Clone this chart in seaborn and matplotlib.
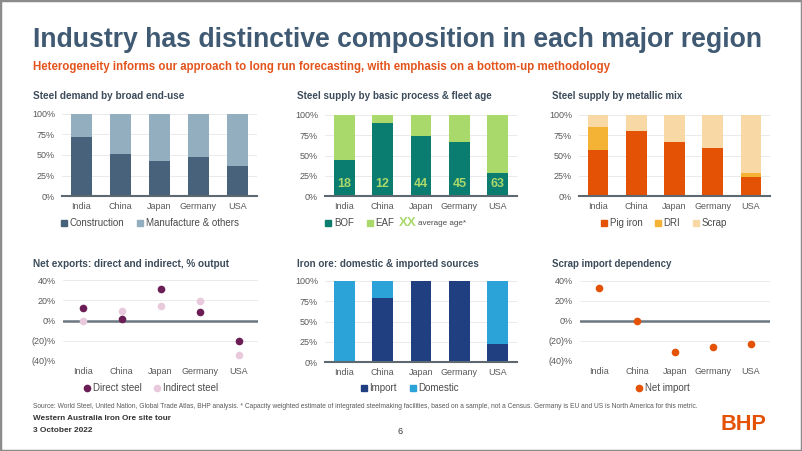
import numpy as np
import matplotlib
matplotlib.use("Agg")
import matplotlib.pyplot as plt
from matplotlib.lines import Line2D
from matplotlib.patches import Rectangle
from matplotlib import font_manager
import seaborn as sns

# --- data ---
regions = ["India", "China", "Japan", "Germany", "USA"]

# steel demand by broad end-use
construction = [0.72, 0.51, 0.43, 0.47, 0.37]
manufacture = [0.28, 0.49, 0.57, 0.53, 0.63]

# steel supply by basic process + fleet age (years)
bof = [0.44, 0.90, 0.74, 0.67, 0.29]
eaf = [0.56, 0.10, 0.26, 0.33, 0.71]
fleet_age = [18, 12, 44, 45, 63]

# metallic mix
pig_iron = [0.57, 0.80, 0.67, 0.59, 0.24]
dri = [0.28, 0.00, 0.00, 0.00, 0.04]
scrap = [0.15, 0.20, 0.33, 0.41, 0.72]

# net exports, % of output
direct_steel = [0.125, 0.015, 0.31, 0.085, -0.20]
indirect_steel = [0.0, 0.09, 0.145, 0.19, -0.34]

# iron ore sources
ore_import = [0.0, 0.79, 1.0, 1.0, 0.22]
ore_domestic = [1.0, 0.21, 0.0, 0.0, 0.78]

# scrap import dependency
scrap_net_import = [0.33, 0.0, -0.31, -0.26, -0.23]

pct_ticks = [0, 0.25, 0.5, 0.75, 1.0]
pct_labels = ["0%", "25%", "50%", "75%", "100%"]
net_ticks = [-0.4, -0.2, 0, 0.2, 0.4]
net_labels = ["(40)%", "(20)%", "0%", "20%", "40%"]

# --- style ---
sns.set_theme(style="white")
installed = {f.name for f in font_manager.fontManager.ttflist}
narrow = "Liberation Sans Narrow" if "Liberation Sans Narrow" in installed else "Liberation Sans"
plt.rcParams["font.family"] = ["Liberation Sans", "DejaVu Sans"]

W, H = 802, 451
fig = plt.figure(figsize=(W / 100, H / 100), dpi=100)
fig.patch.set_facecolor("white")


def box(x0, x1, ytop, ybot):
    return [x0 / W, 1 - ybot / H, (x1 - x0) / W, (ybot - ytop) / H]


def fx(x):
    return x / W


def fy(y):
    return 1 - y / H


def fit(txt, target):
    r = fig.canvas.get_renderer()
    w = txt.get_window_extent(r).width
    txt.set_fontsize(txt.get_fontsize() * target / w)


def base_style(ax, ticks, labels, lim):
    ax.set_ylim(*lim)
    ax.set_yticks(ticks, labels)
    ax.set_xlabel("")
    ax.set_ylabel("")
    ax.tick_params(length=0, labelsize=6.5, labelcolor="#595959")
    ax.tick_params(axis="y", pad=5)
    ax.tick_params(axis="x", pad=4)
    for s in ax.spines.values():
        s.set_visible(False)
    ax.grid(axis="y", color="#e6e6e6", lw=0.6)
    ax.set_axisbelow(True)
    ax.set_facecolor("none")


def bar_style(ax):
    base_style(ax, pct_ticks, pct_labels, (0, 1))
    ax.spines["bottom"].set_visible(True)
    ax.spines["bottom"].set_color("#5d6870")
    ax.spines["bottom"].set_linewidth(1.5)


def dot_style(ax):
    base_style(ax, net_ticks, net_labels, (-0.4, 0.4))
    ax.axhline(0, color="#6b7780", lw=1.8, zorder=1)
    ax.set_xlim(-0.5, 4.5)


def panel_title(x, y, s, width):
    t = fig.text(fx(x), fy(y), s, fontsize=7.1, fontweight="bold", color="#3d4c5b",
                 ha="left", va="center")
    fit(t, width)


def legend(cx, cy, items, marker="s"):
    handles = [Line2D([], [], marker=marker, ls="", color=c, markersize=4.5) for _, c in items]
    fig.legend(handles, [l for l, _ in items], loc="center", bbox_to_anchor=(fx(cx), fy(cy)),
               ncol=len(items), frameon=False, fontsize=7, handlelength=0.6,
               handletextpad=0.3, columnspacing=1.3, labelcolor="#4a4a4a",
               borderpad=0, borderaxespad=0)


def stacked(ax, layers, width=0.54):
    # layers listed bottom -> top; draw cumulative totals from the top down
    cum = np.cumsum(np.array([v for v, _ in layers]), axis=0)
    for i in range(len(layers) - 1, -1, -1):
        sns.barplot(x=regions, y=cum[i], color=layers[i][1], width=width, saturation=1,
                    linewidth=0, ax=ax)


# header
t = fig.text(fx(33), fy(40), "Industry has distinctive composition in each major region",
             fontsize=20, fontweight="bold", color="#3f5a72", family=narrow, ha="left", va="center")
fit(t, 729)
t = fig.text(fx(33), fy(67), "Heterogeneity informs our approach to long run forecasting, "
             "with emphasis on a bottom-up methodology",
             fontsize=8, fontweight="bold", color="#e3541c", family=narrow, ha="left", va="center")
fit(t, 580)

# panel 1: steel demand by end-use
ax1 = fig.add_axes(box(62, 257, 114, 196))
stacked(ax1, [(construction, "#47627a"), (manufacture, "#93aebf")])
bar_style(ax1)
panel_title(33, 96, "Steel demand by broad end-use", 151)
legend(150, 223, [("Construction", "#47627a"), ("Manufacture & others", "#93aebf")])

# panel 2: process + fleet age
ax2 = fig.add_axes(box(325, 517, 115, 196))
stacked(ax2, [(bof, "#0b7c70"), (eaf, "#a9d86b")])
bar_style(ax2)
for i, age in enumerate(fleet_age):
    ax2.text(i, 0.15, str(age), ha="center", va="center", fontsize=9,
             fontweight="bold", color="#a9d86b")
panel_title(297, 96, "Steel supply by basic process & fleet age", 196)
legend(360, 223, [("BOF", "#0b7c70"), ("EAF", "#a9d86b")])
fig.text(fx(399), fy(223), "XX", fontsize=9.5, fontweight="bold", color="#a9d86b",
         ha="left", va="center")
fig.text(fx(418), fy(223.5), "average age*", fontsize=5.8, color="#4a4a4a",
         ha="left", va="center")

# panel 3: metallic mix
ax3 = fig.add_axes(box(579, 770, 115, 196))
stacked(ax3, [(pig_iron, "#e35205"), (dri, "#f5b335"), (scrap, "#f8d9a6")])
bar_style(ax3)
panel_title(552, 96, "Steel supply by metallic mix", 132)
legend(664, 223, [("Pig iron", "#e35205"), ("DRI", "#f5b335"), ("Scrap", "#f8d9a6")])

# panel 4: net exports
ax4 = fig.add_axes(box(63, 258, 280, 361))
sns.stripplot(x=regions, y=indirect_steel, jitter=False, size=5.5, color="#e9c9dc",
              linewidth=0, ax=ax4, zorder=3)
sns.stripplot(x=regions, y=direct_steel, jitter=False, size=5.5, color="#6b1d56",
              linewidth=0, ax=ax4, zorder=4)
dot_style(ax4)
panel_title(33, 264, "Net exports: direct and indirect, % output", 196)
legend(151, 388, [("Direct steel", "#6b1d56"), ("Indirect steel", "#e9c9dc")], marker="o")

# panel 5: iron ore sources
ax5 = fig.add_axes(box(325, 517, 281, 362))
stacked(ax5, [(ore_import, "#203f80"), (ore_domestic, "#2ba3d8")])
bar_style(ax5)
panel_title(297, 264, "Iron ore: domestic & imported sources", 183)
legend(410, 388, [("Import", "#203f80"), ("Domestic", "#2ba3d8")])

# panel 6: scrap import dependency
ax6 = fig.add_axes(box(580, 770, 281, 361))
sns.stripplot(x=regions, y=scrap_net_import, jitter=False, size=5.5, color="#e35205",
              linewidth=0, ax=ax6, zorder=3)
dot_style(ax6)
panel_title(552, 264, "Scrap import dependency", 121)
legend(663, 388, [("Net import", "#e35205")], marker="o")

# footer
t = fig.text(fx(33), fy(407), "Source: World Steel, United Nation, Global Trade Atlas, BHP analysis. "
             "* Capacity weighted estimate of integrated steelmaking facilities, based on a sample, "
             "not a Census. Germany is EU and US is North America for this metric.",
             fontsize=5, color="#595959", family=narrow, ha="left", va="center")
fit(t, 673)
t = fig.text(fx(33), fy(419), "Western Australia Iron Ore site tour", fontsize=6.5,
             fontweight="bold", color="#333333", family=narrow, ha="left", va="center")
fit(t, 138)
t = fig.text(fx(33), fy(430), "3 October 2022", fontsize=6.5, fontweight="bold",
             color="#333333", family=narrow, ha="left", va="center")
fit(t, 59)
fig.text(fx(400), fy(432), "6", fontsize=6.5, color="#333333", ha="center", va="center")
t = fig.text(fx(721), fy(424), "BHP", fontsize=16, fontweight="bold", color="#e35205",
             ha="left", va="center")
fit(t, 46)

fig.patches.append(Rectangle((0, 0), 1, 1, transform=fig.transFigure, fill=False,
                             edgecolor="#8c8c8c", lw=2.5))

fig.savefig("out.png", dpi=100)
